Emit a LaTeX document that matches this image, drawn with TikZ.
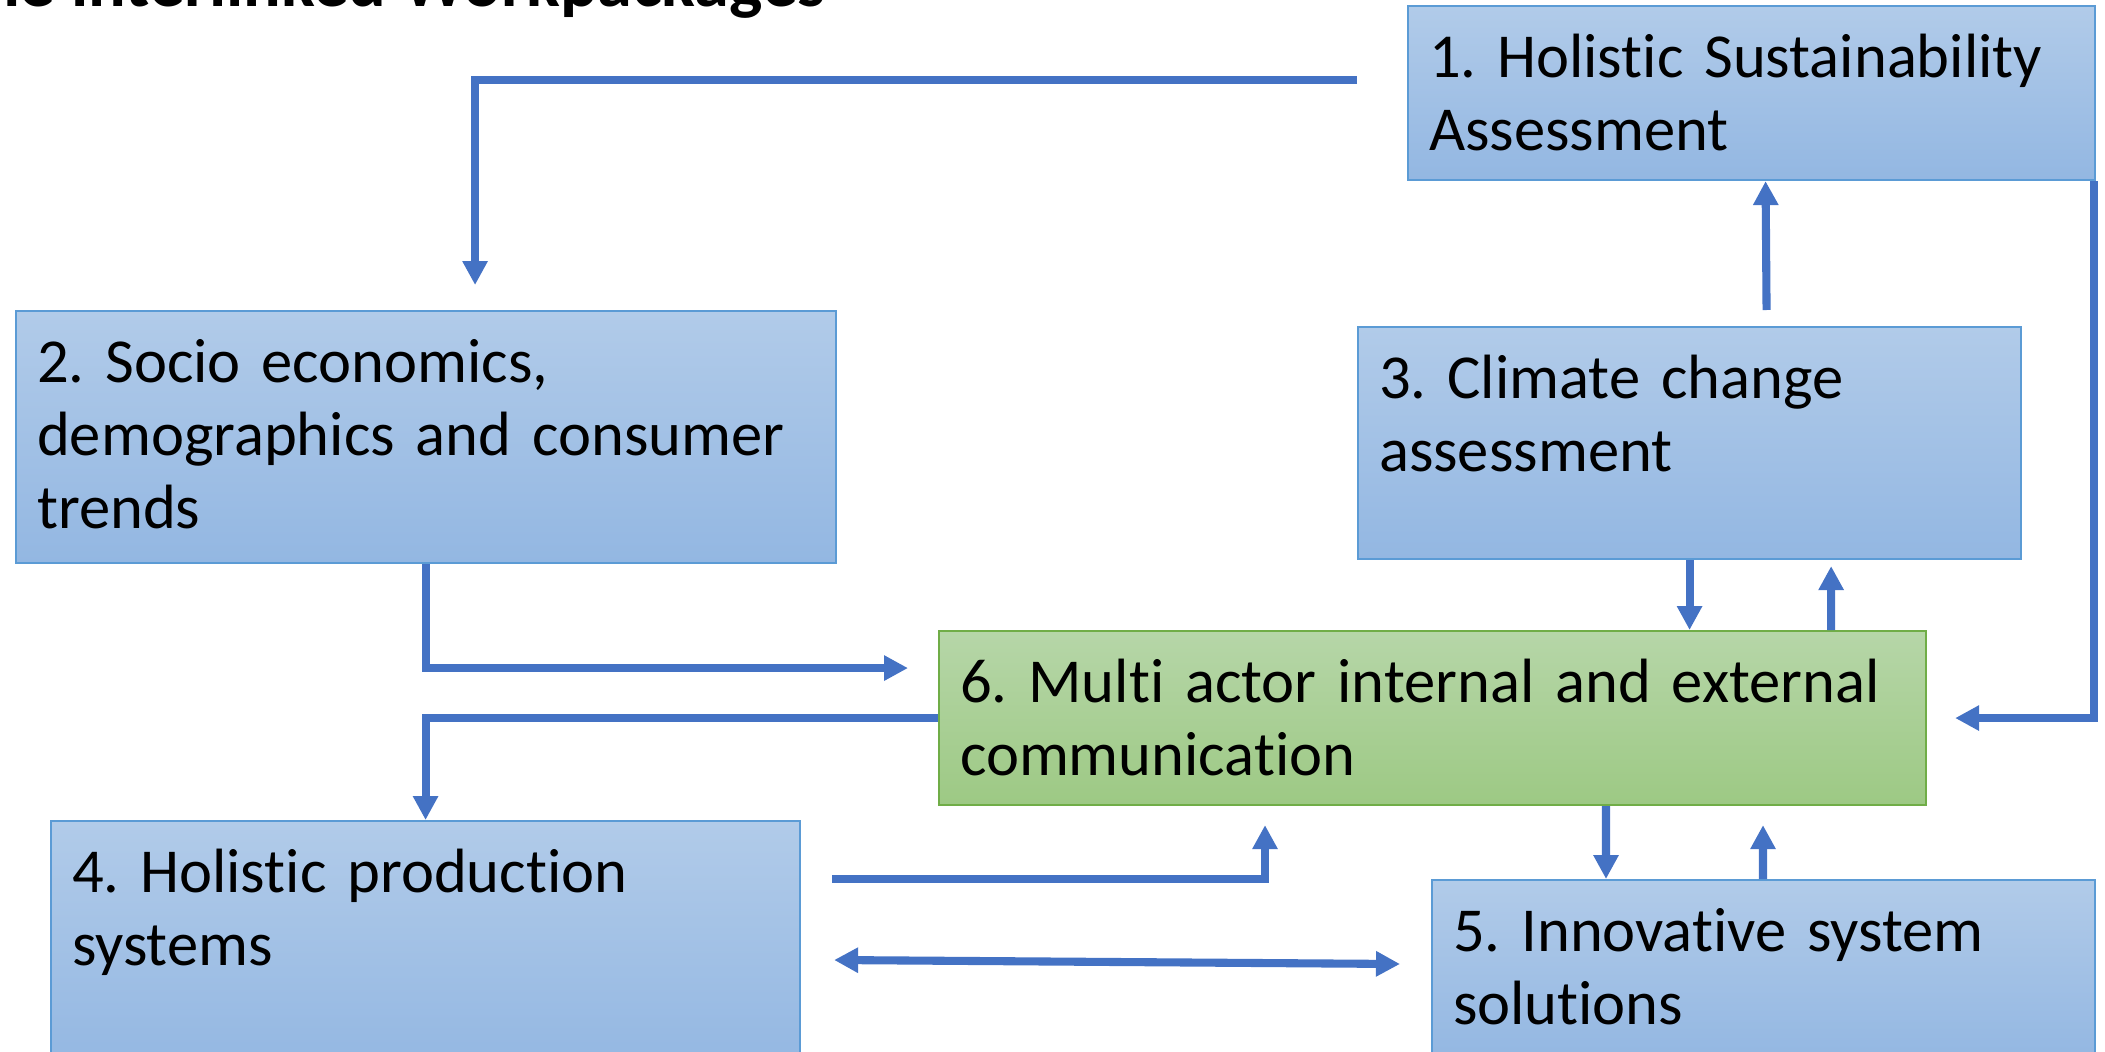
\documentclass[tikz,border=0pt]{standalone}
\usepackage{fontspec}
\setmainfont{Carlito}[Ligatures=NoCommon]
\usetikzlibrary{arrows.meta,calc}
\definecolor{link}{HTML}{4472C4}
\definecolor{blueline}{HTML}{5B9BD5}
\definecolor{bluetop}{HTML}{B1CBE9}
\definecolor{bluebot}{HTML}{93B7E2}
\definecolor{greenline}{HTML}{70AD47}
\definecolor{greentop}{HTML}{B6D6A8}
\definecolor{greenbot}{HTML}{9DC984}
\tikzset{box/.style={draw=blueline,top color=bluetop,bottom color=bluebot,line width=.6pt,anchor=north west,align=left,inner xsep=.21cm,inner ysep=0pt,text height=.71cm,font=\fontsize{17.8}{20.8}\selectfont},greenbox/.style={box,draw=greenline,top color=greentop,bottom color=greenbot},arr/.style={-{Triangle[length=.24cm,width=.24cm]},draw=link,line width=2.3pt},biarr/.style={arr,{Triangle[length=.24cm,width=.24cm]}-{Triangle[length=.24cm,width=.24cm]}},head/.style={font=\bfseries\fontsize{20}{24}\selectfont,anchor=base east,inner sep=0pt}}
\frenchspacing

\begin{document}
\begin{tikzpicture}[x=1cm,y=1cm]
\useasboundingbox (0,0) rectangle (21.05,-10.51);

\node[head] (title) at (8.26,-0.07) {The interlinked Workpackages};
\node[box,text width=6.45cm,text depth=1.03cm] (sust) at (14.07,-0.05) {1. Holistic Sustainability\\Assessment};
\node[box,text width=7.78cm,text depth=1.81cm] (socio) at (0.15,-3.10) {2. Socio economics,\\demographics and consumer\\trends};
\node[box,text width=6.21cm,text depth=1.61cm] (climate) at (13.57,-3.26) {3. Climate change\\assessment};
\node[greenbox,text width=9.45cm,text depth=1.03cm] (comm) at (9.38,-6.30) {6. Multi actor internal and external\\communication};
\node[box,text width=7.07cm,text depth=1.79cm] (prod) at (0.50,-8.20) {4. Holistic production\\systems};
\node[box,text width=6.21cm,text depth=1.09cm] (innov) at (14.31,-8.79) {5. Innovative system\\solutions};
\draw[arr] ($(sust.west)+(-.5,.13)$) -| ($(socio.north)+(.49,.25)$);
\draw[arr] ([xshift=.77cm,yshift=.16cm]climate.north) -- ([xshift=.14cm]sust.south);
\draw[arr] ([xshift=-.02cm]sust.south east) |- ([xshift=.28cm]comm.east);
\draw[arr] (climate.south) -- (climate.south |- comm.north); \draw[arr] ([xshift=-.96cm]comm.north east) -- ([xshift=-1.91cm,yshift=-.06cm]climate.south east);
\draw[arr] (socio.south) |- ([xshift=-.3cm,yshift=.5cm]comm.west);
\draw[arr] (comm.west) -| (prod.north);
\draw[arr] ([xshift=.31cm,yshift=-.59cm]prod.north east) -| ([xshift=3.27cm,yshift=-.19cm]comm.south west);
\draw[biarr] ([xshift=.33cm,yshift=-1.40cm]prod.north east) -- ([xshift=-.31cm,yshift=-.85cm]innov.north west);
\draw[arr] ([xshift=6.68cm]comm.south west) -- ([xshift=1.75cm]innov.north west); \draw[arr] ([xshift=3.32cm]innov.north west) -- ([xshift=8.25cm,yshift=-.19cm]comm.south west);
\end{tikzpicture}
\end{document}
